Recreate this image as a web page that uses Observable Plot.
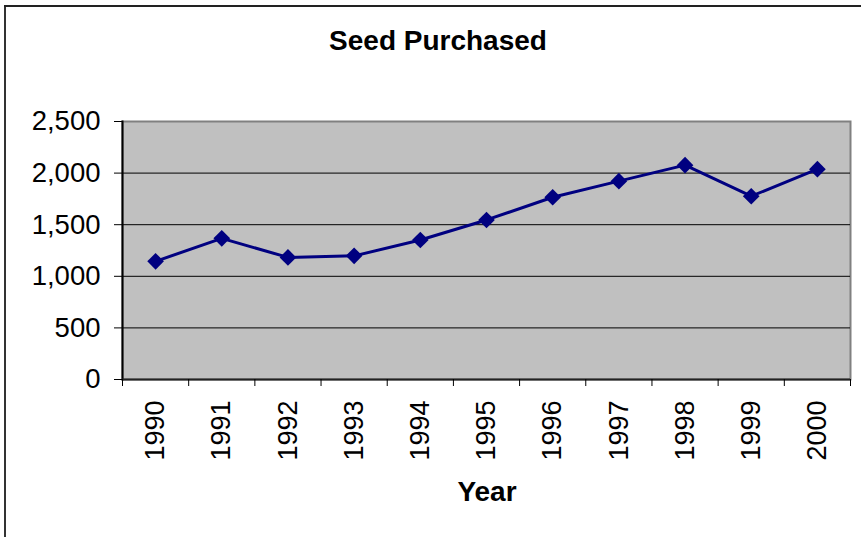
<!DOCTYPE html>
<html>
<head>
<meta charset="utf-8">
<script src="https://cdn.jsdelivr.net/npm/d3@7"></script>
<script src="https://cdn.jsdelivr.net/npm/@observablehq/plot@0.6"></script>
<style>
  html, body { margin: 0; padding: 0; background: #fff; }
  #chart { position: relative; width: 861px; height: 537px; overflow: hidden; font-family: "Liberation Sans", Arial, sans-serif; }
  #chart svg { position: absolute; left: 0; top: 0; }
  .title { position: absolute; top: 27px; left: 0; width: 876px; text-align: center; font-weight: bold; font-size: 28px; line-height: 28px; color: #000; }
  .xlabel { position: absolute; top: 478px; left: 0; width: 974px; text-align: center; font-weight: bold; font-size: 28px; line-height: 28px; color: #000; }
  .bl { position: absolute; left: 4px; top: 5px; width: 2px; height: 540px; background: #333; }
  .bt { position: absolute; left: 4px; top: 5px; width: 870px; height: 2px; background: #222; }
</style>
</head>
<body>
<div id="chart">
  <div class="bl"></div>
  <div class="bt"></div>
  <div class="title">Seed Purchased</div>
  <div class="xlabel">Year</div>
</div>
<script>
const years = [1990, 1991, 1992, 1993, 1994, 1995, 1996, 1997, 1998, 1999, 2000];
const seed = [1145, 1368, 1183, 1198, 1352, 1546, 1766, 1922, 2077, 1776, 2038];
const yTicks = [0, 500, 1000, 1500, 2000, 2500];
const gridValues = [500, 1000, 1500, 2000];

const data = years.map((y, i) => ({year: y, seed: seed[i]}));
const bounds = [...years.map(y => y - 0.5), years[years.length - 1] + 0.5];

const chart = Plot.plot({
  width: 861,
  height: 537,
  marginLeft: 122,
  marginRight: 11,
  marginTop: 121,
  marginBottom: 158,
  style: {fontFamily: '"Liberation Sans", Arial, sans-serif', color: "black", background: "transparent", overflow: "visible"},
  x: {type: "linear", domain: [bounds[0], bounds[bounds.length - 1]]},
  y: {domain: [0, 2500]},
  marks: [
    Plot.frame({fill: "#C0C0C0", stroke: "#808080", strokeWidth: 2}),
    Plot.gridY(gridValues, {stroke: "black", strokeOpacity: 1, strokeWidth: 1}),
    Plot.frame({anchor: "left", stroke: "black", strokeWidth: 2}),
    Plot.ruleY([0], {stroke: "#222", strokeWidth: 2}),
    Plot.axisY({ticks: yTicks, tickFormat: d3.format(","), tickSize: 8, tickPadding: 14, fontSize: 27.5, label: null, stroke: "black"}),
    Plot.axisX({ticks: bounds, tickFormat: () => "", tickSize: 7, label: null, stroke: "black"}),
    Plot.axisX({ticks: years, tickFormat: d => String(d), tickSize: 0, tickPadding: 21, tickRotate: -90, fontSize: 27, label: null}),
    Plot.line(data, {x: "year", y: "seed", stroke: "#000080", strokeWidth: 3}),
    Plot.dot(data, {x: "year", y: "seed", symbol: "diamond2", r: 7.5, fill: "#000080", stroke: "none"})
  ]
});
document.getElementById("chart").appendChild(chart);
</script>
</body>
</html>
